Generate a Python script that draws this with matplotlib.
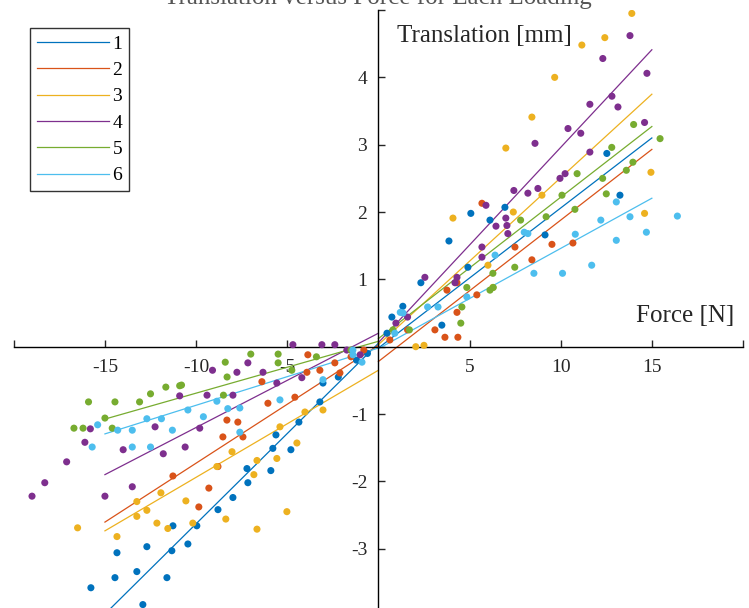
import numpy as np
import matplotlib
matplotlib.use("Agg")
import matplotlib.pyplot as plt

plt.rcParams["font.family"] = ["Liberation Serif", "DejaVu Serif"]

COLORS = ["#0072BD", "#D95319", "#EDB120", "#7E2F8E", "#77AC30", "#4DBEEE"]
LABELS = ["1", "2", "3", "4", "5", "6"]

# measured force [N] / translation [mm] per specimen
force_1 = [-4.36, -5.62, -5.79, -4.80, -7.21, -5.90, -7.16, -7.98, -8.80, -9.96, -11.27, -10.45,
           -12.70, -11.33, -14.34, -13.25, -14.45, -11.60, -12.92, -15.77, -3.21, -3.04, -2.2, -1.2, -0.6,
           5.07, 3.87, 6.12, 6.94, 2.33, 1.34, 3.48, 4.91, 9.14, 13.25, 12.53, 0.47, 0.74]
trans_1 = [-1.12, -1.31, -1.51, -1.53, -1.81, -1.84, -2.02, -2.24, -2.42, -2.66, -2.66, -2.93,
           -2.97, -3.03, -3.06, -3.34, -3.43, -3.43, -3.83, -3.58, -0.82, -0.54, -0.45, -0.2, -0.1,
           1.98, 1.57, 1.88, 2.07, 0.95, 0.60, 0.32, 1.18, 1.66, 2.25, 2.87, 0.20, 0.44]

force_2 = [-3.87, -2.39, -3.92, -3.21, -2.11, -6.39, -4.58, -6.06, -8.31, -7.71, -8.53, -7.43,
           -11.27, -8.80, -9.30, -9.85, -1.5, -0.8,
           5.68, 4.31, 3.76, 5.40, 4.31, 3.65, 4.36, 7.49, 9.52, 10.67, 8.42, 3.10, 0.63, 1.6]
trans_2 = [-0.12, -0.24, -0.38, -0.35, -0.39, -0.52, -0.75, -0.84, -1.09, -1.12, -1.34, -1.34,
           -1.92, -1.78, -2.10, -2.38, -0.15, -0.05,
           2.13, 0.95, 0.84, 0.77, 0.51, 0.14, 0.14, 1.48, 1.52, 1.54, 1.29, 0.25, 0.10, 0.25]

force_3 = [13.9, 12.42, 11.16, 9.67, 8.42, 6.99, 4.09, 14.95, 14.6, 6.01, 7.4, 8.97, 6.28, 2.05, 2.5,
           -5.4, -4.47, -5.57, -6.66, -6.83, -8.03, -8.86, -10.56, -11.93, -12.70, -13.25, -13.25,
           -12.15, -11.55, -10.18, -8.37, -6.66, -5.02, -14.34, -16.5, -3.04, -4.03]
trans_3 = [4.95, 4.59, 4.48, 4.0, 3.41, 2.95, 1.91, 2.59, 1.98, 1.21, 2.0, 2.25, 0.88, 0.0, 0.02,
           -1.19, -1.43, -1.66, -1.69, -1.90, -1.56, -1.78, -2.29, -2.17, -2.43, -2.52, -2.30,
           -2.62, -2.70, -2.62, -2.56, -2.71, -2.45, -2.82, -2.69, -0.94, -0.97]

force_4 = [13.8, 12.31, 14.73, 12.81, 13.14, 11.6, 11.1, 10.4, 14.6, 11.6, 8.59, 10.24, 9.96, 8.75,
           8.2, 7.43, 6.99, 5.9, 7.1, 5.68, 5.68, 4.31, 2.55, 7.05, 6.45, 4.2, 0.96, 1.6,
           -19.0, -18.3, -17.1, -16.1, -15.8, -15.0, -13.5, -14.0, -12.25, -11.8, -10.6, -10.9,
           -9.1, -7.76, -7.16, -6.33, -9.4, -7.98, -4.69, -3.1, -2.39, -1.73, -1.0, -4.2, -5.57, -9.8]
trans_4 = [4.62, 4.28, 4.06, 3.72, 3.56, 3.6, 3.17, 3.24, 3.33, 2.89, 3.02, 2.57, 2.5, 2.35,
           2.28, 2.32, 1.91, 2.1, 1.68, 1.48, 1.33, 1.03, 1.03, 1.8, 1.79, 0.95, 0.35, 0.44,
           -2.22, -2.02, -1.71, -1.42, -1.22, -2.22, -2.08, -1.53, -1.19, -1.59, -1.49, -0.73,
           -0.35, -0.38, -0.24, -0.38, -0.72, -0.72, 0.03, 0.03, 0.03, -0.05, -0.12, -0.46, -0.54, -1.21]

force_5 = [-15.9, -14.45, -13.1, -12.5, -11.66, -10.9, -16.7, -16.2, -15.0, -14.6,
           -7.0, -8.4, -5.5, -5.5, -8.3, -8.5, -4.75, -3.4, -10.8, -1.5,
           15.45, 14.0, 12.8, 12.5, 13.96, 10.78, 10.9, 9.2, 10.07, 7.8, 6.28, 6.12, 4.58, 4.85,
           4.52, 7.48, 12.3, 13.6, 0.8, 1.7, 6.3]
trans_5 = [-0.82, -0.82, -0.82, -0.70, -0.60, -0.58, -1.21, -1.21, -1.06, -1.21,
           -0.11, -0.23, -0.11, -0.24, -0.45, -0.72, -0.35, -0.15, -0.57, -0.05,
           3.09, 3.30, 2.96, 2.27, 2.74, 2.04, 2.57, 1.93, 2.25, 1.88, 1.09, 0.84, 0.59, 0.88,
           0.35, 1.18, 2.5, 2.62, 0.25, 0.25, 0.88]

force_6 = [-15.4, -15.7, -14.3, -13.5, -13.5, -12.7, -11.9, -12.5, -10.45, -8.86, -8.26, -7.6,
           -5.4, -3.04, -1.4, -0.9, -9.6, -7.6, -11.3,
           16.4, 14.7, 13.8, 13.05, 11.7, 10.1, 8.53, 12.2, 10.8, 13.05, 8.2, 8.0, 6.4, 3.27, 2.7,
           1.35, 4.85, 0.9, 1.2, -1.4]
trans_6 = [-1.16, -1.49, -1.24, -1.24, -1.49, -1.07, -1.07, -1.49, -0.94, -0.81, -0.92, -0.91,
           -0.79, -0.49, -0.12, -0.23, -1.04, -1.27, -1.24,
           1.94, 1.70, 1.93, 1.58, 1.21, 1.09, 1.09, 1.88, 1.67, 2.15, 1.68, 1.7, 1.36, 0.59, 0.59,
           0.5, 0.74, 0.2, 0.51, -0.05]

FORCES = [force_1, force_2, force_3, force_4, force_5, force_6]
TRANS = [trans_1, trans_2, trans_3, trans_4, trans_5, trans_6]

# linear fits (slope, intercept) for compression (F<0) and tension (F>0)
slope_neg = [0.268, 0.175, 0.159, 0.140, 0.077, 0.085]
icpt_neg = [0.05, 0.02, -0.35, 0.20, 0.08, -0.02]
slope_pos = [0.208, 0.210, 0.248, 0.290, 0.210, 0.149]
icpt_pos = [-0.02, -0.22, 0.03, 0.06, 0.12, -0.03]

fig = plt.figure(figsize=(7.49, 6.08), dpi=100)
ax = fig.add_axes([0.0184, -0.0132, 0.9736, 0.9967])

for k in range(6):
    xn = np.array([-15.0, 0.0])
    xp = np.array([0.0, 15.0])
    ax.plot(xn, slope_neg[k] * xn + icpt_neg[k], color=COLORS[k], lw=0.9, label=LABELS[k])
    ax.plot(xp, slope_pos[k] * xp + icpt_pos[k], color=COLORS[k], lw=0.9)
for k in range(6):
    ax.scatter(FORCES[k], TRANS[k], s=26, color=COLORS[k], edgecolors="none", zorder=3)

ax.set_xlim(-20, 20)
ax.set_ylim(-4, 5)
ax.spines["left"].set_position(("data", 0))
ax.spines["bottom"].set_position(("data", 0))
ax.spines["right"].set_visible(False)
ax.spines["top"].set_visible(False)
for s in ("left", "bottom"):
    ax.spines[s].set_linewidth(1.0)

ax.set_xticks(np.arange(-20, 21, 5))
ax.set_xticklabels(["", "-15", "-10", "-5", "", "5", "10", "15", ""])
ax.set_yticks(np.arange(-4, 6, 1))
ax.set_yticklabels(["", "-3", "-2", "-1", "", "1", "2", "3", "4", ""])
ax.tick_params(direction="in", length=5, width=1.0, labelsize=14, colors="#262626")
ax.tick_params(axis="x", pad=9)
ax.tick_params(axis="y", pad=8)

ax.text(1.0, 4.62, "Translation [mm]", fontsize=18, color="#262626", va="center", ha="left")
ax.text(19.5, 0.45, "Force [N]", fontsize=18, color="#262626", va="center", ha="right")

fig.text(0.505, 1 - 4 / 608, "Translation versus Force for Each Loading", fontsize=18,
         color="#555555", ha="center", va="baseline")

leg = ax.legend(loc="upper left", bbox_to_anchor=(0.022, 0.970), fontsize=14, handlelength=3.7,
                handletextpad=0.2, labelspacing=0.45, borderpad=0.35, fancybox=False,
                frameon=True, edgecolor="black", borderaxespad=0)
leg.get_frame().set_linewidth(1.0)

fig.savefig("out.png", dpi=100)
